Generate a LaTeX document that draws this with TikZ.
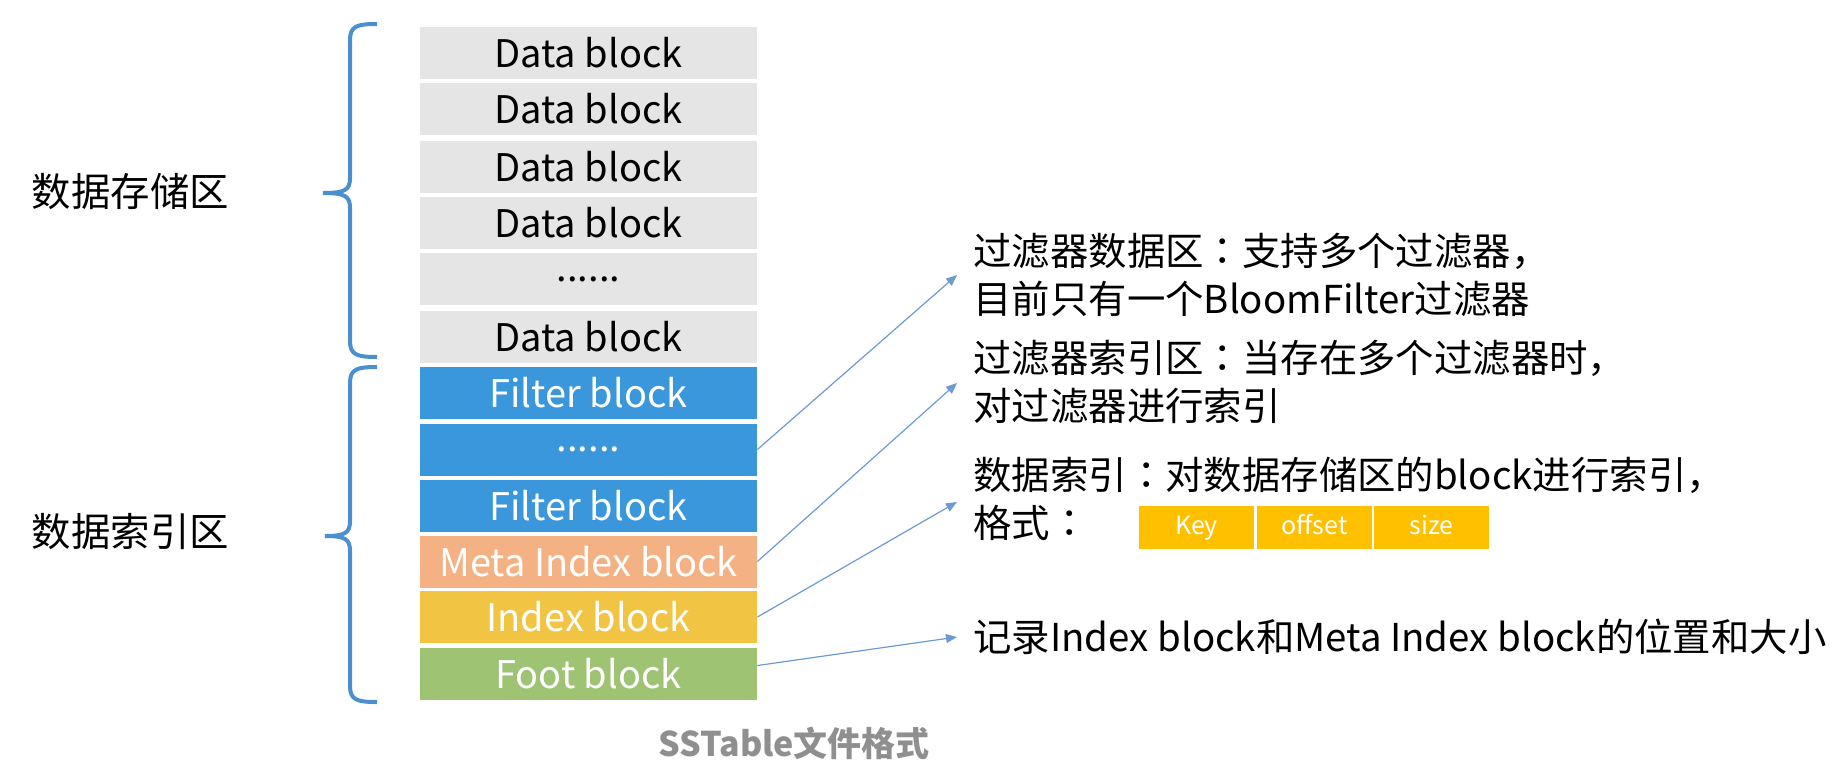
\documentclass[tikz,border=0pt]{standalone}
\usepackage{fontspec}
\setmainfont{Noto Sans CJK SC}
\newfontfamily\jpcolon{Noto Sans CJK JP}
\newcommand{\fwc}{{\jpcolon ：}}
\usetikzlibrary{arrows.meta,calc}
\definecolor{datagray}{HTML}{E5E5E5}
\definecolor{filterblue}{HTML}{3A97DC}
\definecolor{metaorange}{HTML}{F4B183}
\definecolor{indexyellow}{HTML}{F1C444}
\definecolor{footgreen}{HTML}{9DC373}
\definecolor{keygold}{HTML}{FFC000}
\definecolor{bracecol}{HTML}{4A90D0}
\definecolor{arrowcol}{HTML}{6B9BD2}
\definecolor{titlegray}{HTML}{8F8F8F}
\begin{document}
\begin{tikzpicture}[x=0.5pt,y=-0.5pt,
  blk/.style={minimum width=168.5pt,minimum height=26pt,inner sep=0pt,
    font=\fontsize{19pt}{23pt}\selectfont},
  datablk/.style={blk,fill=datagray,text=black},
  filterblk/.style={blk,fill=filterblue,text=white},
  lbl/.style={inner sep=0pt,font=\fontsize{19.7pt}{24pt}\selectfont},
  rt/.style={anchor=west,inner sep=0pt,font=\fontsize{19.2pt}{23pt}\selectfont,
    text height=16.9pt,text depth=2.3pt},
  kbox/.style={minimum width=57.5pt,minimum height=21.5pt,inner sep=0pt,
    fill=keygold,text=white,font=\fontsize{12.5pt}{15pt}\selectfont,
    text height=9.2pt,text depth=2.6pt},
  bracestyle/.style={draw=bracecol,line width=2pt},
  arr/.style={draw=arrowcol,line width=0.6pt,-{Triangle[length=5.5pt,width=4.5pt]}}
]
\useasboundingbox (0,0) rectangle (1842,778);

% blocks
\node[datablk] (d1) at (588.5,52.5) {Data block};
\node[datablk] (d2) at (588.5,109) {Data block};
\node[datablk] (d3) at (588.5,166.5) {Data block};
\node[datablk] (d4) at (588.5,222.5) {Data block};
\node[datablk] (d5) at (588.5,279) {......};
\node[datablk] (d6) at (588.5,337) {Data block};
\node[filterblk] (f1) at (588.5,392.5) {Filter block};
\node[filterblk] (f2) at (588.5,449.5) {......};
\node[filterblk] (f3) at (588.5,506) {Filter block};
\node[blk,fill=metaorange,text=white] (meta) at (588.5,561.5) {Meta Index block};
\node[blk,fill=indexyellow,text=white] (idx) at (588.5,617) {Index block};
\node[blk,fill=footgreen,text=white] (foot) at (588.5,673.5) {Foot block};

% left labels
\node[lbl] (lab1) at (130.5,192) {数据存储区};
\node[lbl] (lab2) at (130.5,532) {数据索引区};

% braces
\path[bracestyle] (377,24) .. controls (357,24) and (350,26) .. (350,40)
  -- (350,178) .. controls (350,190) and (345,193) .. (323,193)
  .. controls (345,193) and (350,196) .. (350,208)
  -- (350,341) .. controls (350,355) and (357,357) .. (377,357);
\path[bracestyle] (377,367) .. controls (357,367) and (350,369) .. (350,383)
  -- (350,521) .. controls (350,533) and (345,536) .. (325,536)
  .. controls (345,536) and (350,539) .. (350,551)
  -- (350,686) .. controls (350,700) and (357,702) .. (377,702);

% right texts
\node[rt] (r1) at (973,251) {过滤器数据区\fwc 支持多个过滤器，};
\node[rt] (r2) at (973,299) {目前只有一个BloomFilter过滤器};
\node[rt] (r3) at (973,357.5) {过滤器索引区\fwc 当存在多个过滤器时，};
\node[rt] (r4) at (973,406) {对过滤器进行索引};
\node[rt] (r5) at (973,475) {数据索引\fwc 对数据存储区的block进行索引，};
\node[rt] (r6) at (973,523) {格式\fwc};
\node[rt] (r7) at (973,637) {记录Index block和Meta Index block的位置和大小};

% key boxes
\node[kbox] (k1) at (1196.5,527.5) {Key};
\node[kbox] (k2) at (1314.5,527.5) {offset};
\node[kbox] (k3) at (1431.5,527.5) {size};

% arrow tips
\coordinate (t1) at (957,275);
\coordinate (t2) at (957,383);
\coordinate (t3) at (957,502);
\coordinate (t4) at (957,637);

\draw[arr] (f2.east) -- (t1);
\draw[arr] (meta.east) -- (t2);
\draw[arr] (idx.east) -- (t3);
\draw[arr] ($(foot.east)+(0,-8)$) -- (t4);

% title
\node[font=\fontsize{17pt}{20pt}\selectfont\bfseries,text=titlegray] (title) at (794,743) {SSTable文件格式};
\end{tikzpicture}
\end{document}
